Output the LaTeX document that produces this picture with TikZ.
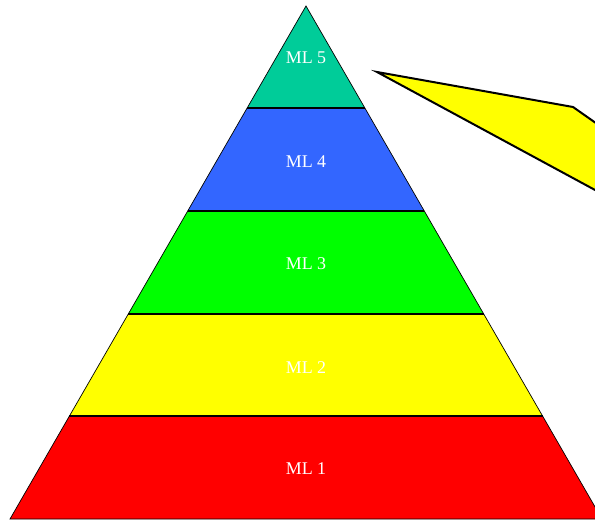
\documentclass[tikz,border=0pt]{standalone}
\usepackage{fontspec}
\setmainfont{Liberation Serif}
\definecolor{mlfive}{HTML}{00CC99}
\definecolor{mlfour}{HTML}{3366FF}
\definecolor{mlthree}{HTML}{00FF00}
\definecolor{mltwo}{HTML}{FFFF00}
\definecolor{mlone}{HTML}{FF0000}

\begin{document}
\begin{tikzpicture}[x=1bp,y=-1bp,
    side/.style={draw=black,line width=0.7bp},
    split/.style={draw=black,line width=1.4bp},
    mltext/.style={text=white,font=\fontsize{18}{20}\selectfont},
    callout/.style={draw=black,fill=mltwo,line width=2bp,line join=miter}]
    \useasboundingbox (0,0) rectangle (595,521);
    \clip (0,0) rectangle (595,521);

    \coordinate (A) at (306,6);
    \coordinate (L4) at (247.2,108);
    \coordinate (R4) at (364.8,108);
    \coordinate (L3) at (187.7,211);
    \coordinate (R3) at (424.3,211);
    \coordinate (L2) at (128.3,314);
    \coordinate (R2) at (483.7,314);
    \coordinate (L1) at (69.4,416);
    \coordinate (R1) at (542.6,416);
    \coordinate (L0) at (10,519);
    \coordinate (R0) at (602,519);

    % layers
    \fill[mlfive] (A) -- (L4) -- (R4) -- cycle;
    \fill[mlfour] (L4) -- (L3) -- (R3) -- (R4) -- cycle;
    \fill[mlthree] (L3) -- (L2) -- (R2) -- (R3) -- cycle;
    \fill[mltwo] (L2) -- (L1) -- (R1) -- (R2) -- cycle;
    \fill[mlone] (L1) -- (L0) -- (R0) -- (R1) -- cycle;

    \draw[side] (L0) -- (A) -- (R0) -- cycle;
    \draw[split] (L4) -- (R4);
    \draw[split] (L3) -- (R3);
    \draw[split] (L2) -- (R2);
    \draw[split] (L1) -- (R1);

    \node[mltext] (ml5) at (306,57.5) {ML 5};
    \node[mltext] (ml4) at (306,161.5) {ML 4};
    \node[mltext] (ml3) at (306,263.5) {ML 3};
    \node[mltext] (ml2) at (306,367.5) {ML 2};
    \node[mltext] (ml1) at (306,468.5) {ML 1};

    % callout
    \draw[callout] (377,72) -- (573,107) -- (620,140) -- (620,203.5) -- cycle;
\end{tikzpicture}
\end{document}
